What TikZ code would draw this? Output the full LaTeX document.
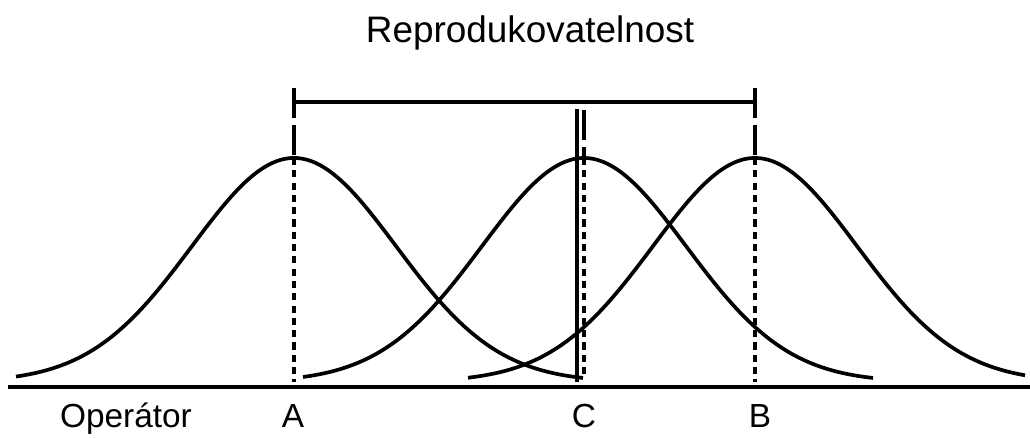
\documentclass[tikz,border=0pt]{standalone}
\usepackage{fontspec}
\setmainfont{Liberation Sans}

\tikzset{
    bell/.style={line width=2.1pt, samples=90, smooth},
    upper/.style={line width=2pt, dash pattern=on 17pt off 4pt},
    lower/.style={line width=2pt, dash pattern=on 4pt off 3pt},
    label/.style={anchor=base, font=\fontsize{19}{22}\selectfont}
}

\begin{document}
\begin{tikzpicture}[x=0.02cm, y=-0.02cm]
    \useasboundingbox (0,0) rectangle (1030,438);

    \coordinate (axisL) at (8,387);
    \coordinate (axisR) at (1030,387);
    \coordinate (topA) at (294,88);
    \coordinate (peakA) at (294,158);
    \coordinate (baseA) at (294,382);
    \coordinate (topB) at (755,88);
    \coordinate (peakB) at (755,158);
    \coordinate (baseB) at (755,382);
    \coordinate (topC) at (584,110);
    \coordinate (peakC) at (584,158);
    \coordinate (baseC) at (584,374);
    \coordinate (barA) at (294,102);
    \coordinate (barB) at (755,102);
    \coordinate (refTop) at (577,109);
    \coordinate (refBot) at (577,382);

    \draw [bell] plot [domain=16:583] (\x, {382-224*exp(-((\x-294)/102)*((\x-294)/102)/2)});
    \draw [bell] plot [domain=303:873] (\x, {382-224*exp(-((\x-584)/102)*((\x-584)/102)/2)});
    \draw [bell] plot [domain=468:1025] (\x, {382-224*exp(-((\x-755)/102)*((\x-755)/102)/2)});

    \draw [line width=2.4pt] (axisL) -- (axisR);

    \draw [line width=2.1pt] (barA) -- (barB);
    \draw [upper] (topA) -- (peakA);
    \draw [lower] (peakA) -- (baseA);
    \draw [upper] (topB) -- (peakB);
    \draw [lower] (peakB) -- (baseB);
    \draw [upper] (topC) -- (peakC);
    \draw [lower] (peakC) -- (baseC);
    \draw [line width=2pt] (refTop) -- (refBot);

    \node (title) [anchor=base, font=\fontsize{21}{24}\selectfont] at (530,43) {Reprodukovatelnost};
    \node (operator) [label] at (126,427) {Operátor};
    \node (labA) [label] at (293,427) {A};
    \node (labC) [label] at (584,427) {C};
    \node (labB) [label] at (760,427) {B};
\end{tikzpicture}
\end{document}
